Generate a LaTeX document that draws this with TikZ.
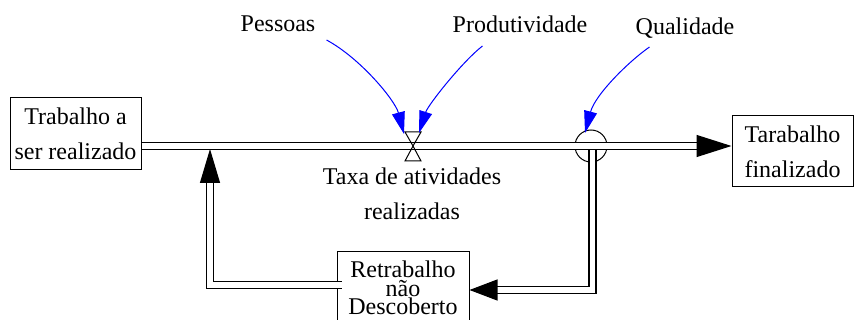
\documentclass[tikz,border=0pt]{standalone}
\usepackage{fontspec}
\setmainfont{Liberation Serif}
\usetikzlibrary{arrows.meta,calc}
\begin{document}
\begin{tikzpicture}[x=1pt,y=-1pt,
  every node/.style={font=\fontsize{24}{35}\selectfont, inner sep=0pt, align=center},
  stock/.style={draw, line width=1pt},
  pipe/.style={draw, line width=1.2pt, double=white, double distance=5.8pt},
  infl/.style={draw=blue, line width=1pt, -{Triangle[length=22pt,width=13pt]}},
  valvestyle/.style={draw, line width=1pt}
]
\useasboundingbox (0,0) rectangle (854,320);

% stocks
\node[stock, minimum width=131pt, minimum height=72pt] (tr) at (75.5,134) {Trabalho a\\ser realizado};
\node[stock, minimum width=121pt, minimum height=71pt] (tf) at (792.5,151.5) {Tarabalho\\finalizado};
\node[stock, minimum width=132pt, minimum height=72pt,
      font={\fontsize{24}{18.5}\selectfont\lineskiplimit=-100pt}] (rt) at (403,288) {Retrabalho\\não\\Descoberto};

% valve, converter
\coordinate (valve) at (413,146);
\node[draw, circle, minimum size=32pt, line width=1pt] (ci) at (591,146) {};
\coordinate (fb) at (210,149);

% pipes
\draw[pipe, -{Triangle[length=28pt,width=21pt]}] ($(ci.center)+(1.5,0)$) |- ($(rt.east)+(0,2)$);
\draw[pipe, -{Triangle[length=34pt,width=20pt]}] ($(rt.west)+(5,-3)$) -| (fb);
\draw[pipe, -{Triangle[length=35pt,width=22pt]}] (tr.east |- valve) -- (tf.west |- valve);

\draw[valvestyle] ($(valve)+(-8,-14)$) -- ++(16,0) -- (valve) -- cycle;
\draw[valvestyle] ($(valve)+(-8,15)$) -- ++(16,0) -- (valve) -- cycle;

% labels
\node[anchor=base] (tx) at (412,220) {Taxa de atividades\\realizadas};
\node[anchor=base] (pe) at (278,32) {Pessoas};
\node[anchor=base] (pr) at (520,33) {Produtividade};
\node[anchor=base] (ql) at (685,35) {Qualidade};

% influences
\draw[infl] ($(pe.base east)+(11,8)$) .. controls (360,58) and (395,100) .. ($(valve)+(-9,-12)$);
\draw[infl] ($(pr.base west)+(30,13)$) .. controls (462,62) and (428,105) .. ($(valve)+(6,-13)$);
\draw[infl] ($(ql.base west)+(14,12)$) .. controls (628,62) and (595,95) .. ($(ci.center)+(-6,-13)$);
\end{tikzpicture}
\end{document}
